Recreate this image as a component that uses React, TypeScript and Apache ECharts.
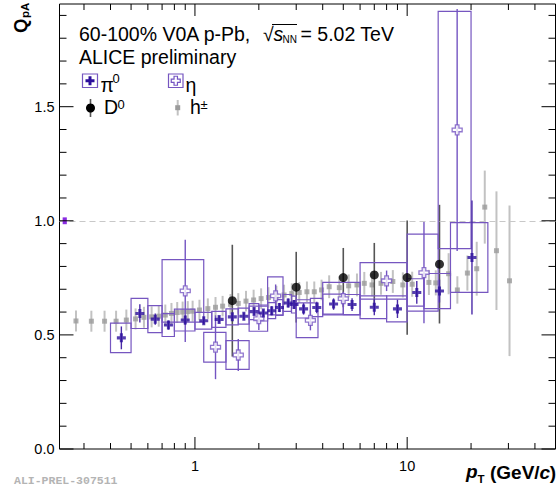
import React, { useEffect, useRef } from "react";
import * as echarts from "echarts";

// ---- pi0: pT (GeV/c), Q_pA, bin edges for the systematic boxes, errors
const pi0Pt = [0.45, 0.55, 0.65, 0.75, 0.9, 1.1, 1.3, 1.5, 1.7, 1.9, 2.1, 2.3, 2.5, 2.75, 2.93, 3.25, 3.75, 4.5, 5.5, 7.0, 9.0, 11.1, 14.2, 20.2];
const pi0Q = [0.487, 0.594, 0.569, 0.543, 0.565, 0.562, 0.568, 0.579, 0.582, 0.602, 0.596, 0.606, 0.620, 0.640, 0.633, 0.614, 0.620, 0.635, 0.633, 0.621, 0.614, 0.686, 0.692, 0.839];
const pi0Lo = [0.4, 0.5, 0.6, 0.7, 0.8, 1.0, 1.2, 1.4, 1.6, 1.8, 2.0, 2.2, 2.4, 2.6, 2.85, 3.0, 3.5, 4.0, 5.0, 6.0, 8.0, 10.0, 12.0, 16.0];
const pi0Hi = [0.5, 0.6, 0.7, 0.8, 1.0, 1.2, 1.4, 1.6, 1.8, 2.0, 2.2, 2.4, 2.6, 2.85, 3.0, 3.5, 4.0, 5.0, 6.0, 8.0, 10.0, 12.0, 16.0, 24.0];
const pi0Sys = [0.065, 0.066, 0.059, 0.05, 0.048, 0.037, 0.035, 0.035, 0.035, 0.035, 0.035, 0.035, 0.035, 0.037, 0.037, 0.04, 0.04, 0.044, 0.044, 0.05, 0.057, 0.06, 0.077, 0.153];
const pi0Stat = [0.05, 0.04, 0.025, 0.02, 0.02, 0.015, 0.015, 0.015, 0.015, 0.015, 0.015, 0.02, 0.02, 0.02, 0.02, 0.025, 0.025, 0.025, 0.028, 0.035, 0.04, 0.05, 0.05, 0.25];

// ---- eta
const etaPt = [0.9, 1.25, 1.6, 2.0, 2.4, 3.5, 5.0, 8.0, 12.0, 17.2];
const etaQ = [0.693, 0.446, 0.412, 0.571, 0.671, 0.564, 0.659, 0.737, 0.773, 1.398];
const etaLo = [0.7, 1.1, 1.4, 1.8, 2.2, 3.0, 4.0, 6.0, 10.0, 14.0];
const etaHi = [1.1, 1.4, 1.8, 2.2, 2.6, 3.8, 6.0, 10.0, 14.0, 20.0];
const etaSys = [0.137, 0.065, 0.063, 0.055, 0.083, 0.076, 0.071, 0.08, 0.169, 0.52];
const etaStat = [0.224, 0.14, 0.07, 0.05, 0.05, 0.044, 0.03, 0.045, 0.222, 0.53];

// ---- D0
const d0Pt = [1.5, 3.0, 5.0, 7.0, 10.0, 14.2];
const d0Q = [0.650, 0.709, 0.751, 0.763, 0.751, 0.810];
const d0Err = [0.245, 0.155, 0.13, 0.14, 0.25, 0.26];

// ---- charged hadrons
const hPt = [0.275, 0.325, 0.375, 0.425, 0.475, 0.525, 0.575, 0.625, 0.675, 0.725, 0.775, 0.825, 0.875, 0.925, 0.975,
  1.05, 1.15, 1.25, 1.35, 1.47, 1.6, 1.74, 1.89, 2.05, 2.22, 2.42, 2.63, 2.86, 3.1, 3.37, 3.65, 3.95,
  4.29, 4.79, 5.3, 5.8, 6.28, 6.83, 7.53, 8.56, 9.54, 10.56, 12.66, 13.64, 15.68, 17.24, 19.22, 21.27, 23.21, 26.35, 30.36];
const hQ = [0.561, 0.560, 0.560, 0.560, 0.565, 0.570, 0.577, 0.579, 0.582, 0.587, 0.594, 0.598, 0.600, 0.602, 0.604,
  0.609, 0.615, 0.621, 0.626, 0.634, 0.638, 0.648, 0.653, 0.659, 0.664, 0.670, 0.675, 0.681, 0.686, 0.689, 0.689, 0.697,
  0.711, 0.707, 0.715, 0.719, 0.726, 0.719, 0.726, 0.734, 0.719, 0.722, 0.730, 0.728, 0.768, 0.697, 0.771, 0.790, 1.060, 0.869, 0.737];
const hErr = [0.046, 0.046, 0.046, 0.046, 0.046, 0.046, 0.046, 0.046, 0.046, 0.046, 0.046, 0.046, 0.046, 0.046, 0.046,
  0.045, 0.045, 0.045, 0.045, 0.045, 0.045, 0.045, 0.045, 0.045, 0.045, 0.045, 0.045, 0.045, 0.045, 0.045, 0.045, 0.045,
  0.05, 0.05, 0.05, 0.05, 0.05, 0.05, 0.05, 0.05, 0.055, 0.055, 0.055, 0.055, 0.09, 0.06, 0.077, 0.118, 0.16, 0.26, 0.33];

// normalisation uncertainty at unity
const normValue = 1.0;
const normErr = 0.015;

// axes
const X_MIN = 0.23;
const X_MAX = 50;
const Y_MIN = 0;
const Y_MAX = 1.95;
const xLabelTicks = [1, 10];
const xMinorTicks = [0.3, 0.4, 0.5, 0.6, 0.7, 0.8, 0.9, 2, 3, 4, 5, 6, 7, 8, 9, 20, 30, 40];
const yMajorTicks = [0, 0.5, 1.0, 1.5];
const yMinorTicks = [0.1, 0.2, 0.3, 0.4, 0.6, 0.7, 0.8, 0.9, 1.1, 1.2, 1.3, 1.4, 1.6, 1.7, 1.8, 1.9];

const FONT = "'Liberation Sans', Arial, Helvetica, sans-serif";
const PI0_COLOR = "#2c0f9c";
const PI0_BAR = "#4a2aa8";
const BOX_COLOR = "#7656c0";
const ETA_COLOR = "#7454c2";
const NORM_COLOR = "#8a2be2";

const PLUS_PATH = "path://M3.3,0H6.7V3.3H10V6.7H6.7V10H3.3V6.7H0V3.3H3.3Z";
const OPEN_CROSS_PATH = "path://M3.2,0H6.8V3.2H10V6.8H6.8V10H3.2V6.8H0V3.2H3.2Z";

function errBars(name: string, xs: number[], ys: number[], errs: number[], color: string, width: number, z: number) {
  return {
    type: "custom",
    name,
    z,
    clip: true,
    data: xs.map((x, i) => [x, ys[i], errs[i]]),
    encode: { x: 0, y: 1 },
    renderItem: (_p: any, api: any) => {
      const x = api.value(0);
      const y = api.value(1);
      const e = api.value(2);
      const a = api.coord([x, y - e]);
      const b = api.coord([x, y + e]);
      return {
        type: "line",
        shape: { x1: a[0], y1: a[1], x2: b[0], y2: b[1] },
        style: { stroke: color, lineWidth: width },
      };
    },
  };
}

function sysBoxes(name: string, lo: number[], hi: number[], ys: number[], sys: number[], color: string, z: number) {
  return {
    type: "custom",
    name,
    z,
    clip: true,
    data: ys.map((y, i) => [lo[i], hi[i], y, sys[i]]),
    encode: { x: [0, 1], y: 2 },
    renderItem: (_p: any, api: any) => {
      const y = api.value(2);
      const s = api.value(3);
      const p1 = api.coord([api.value(0), y + s]);
      const p2 = api.coord([api.value(1), y - s]);
      return {
        type: "rect",
        shape: { x: p1[0], y: p1[1], width: p2[0] - p1[0], height: p2[1] - p1[1] },
        style: { fill: "none", stroke: color, lineWidth: 1.2 },
      };
    },
  };
}

// frame ticks on all four sides, pointing inwards
const tickData = [
  ...xMinorTicks.map((v) => [v, 1, 0]),
  ...xLabelTicks.map((v) => [v, 1, 1]),
  ...yMinorTicks.map((v) => [1, v, 2]),
  ...yMajorTicks.map((v) => [1, v, 3]),
];

function plusPoints(cx: number, cy: number, s: number, t: number) {
  const h = s / 2;
  const a = t / 2;
  return [
    [cx - a, cy - h], [cx + a, cy - h], [cx + a, cy - a], [cx + h, cy - a], [cx + h, cy + a], [cx + a, cy + a],
    [cx + a, cy + h], [cx - a, cy + h], [cx - a, cy + a], [cx - h, cy + a], [cx - h, cy - a], [cx - a, cy - a],
  ];
}

function txt(x: number, y: number, text: string, size: number, extra: any = {}) {
  return {
    type: "text",
    x,
    y,
    z: 50,
    style: {
      text,
      fontSize: size,
      fontFamily: FONT,
      fill: "#000",
      align: "left",
      verticalAlign: "middle",
      textAlign: "left",
      textVerticalAlign: "middle",
      ...extra,
    },
  };
}

export default function App() {
  const ref = useRef<HTMLDivElement>(null);

  useEffect(() => {
    if (!ref.current) return;
    document.body.style.margin = "0";
    const chart = echarts.init(ref.current, undefined, { renderer: "svg" });

    const option: any = {
      animation: false,
      backgroundColor: "#ffffff",
      grid: {
        left: 59.5,
        right: 0.5,
        top: 4,
        bottom: 37,
        show: true,
        borderColor: "#000",
        borderWidth: 1,
        backgroundColor: "transparent",
        containLabel: false,
      },
      xAxis: {
        type: "log",
        logBase: 10,
        min: X_MIN,
        max: X_MAX,
        axisLine: { show: false },
        axisTick: { show: false },
        splitLine: { show: false },
        axisLabel: {
          margin: 9,
          fontSize: 14.5,
          fontFamily: FONT,
          color: "#000",
          showMinLabel: false,
          showMaxLabel: false,
          formatter: (v: number) => {
            const hit = xLabelTicks.find((t) => Math.abs(v - t) / t < 1e-6);
            return hit !== undefined ? String(hit) : "";
          },
        },
      },
      yAxis: {
        type: "value",
        min: Y_MIN,
        max: Y_MAX,
        interval: 0.5,
        axisLine: { show: false },
        axisTick: { show: false },
        splitLine: { show: false },
        axisLabel: {
          margin: 5,
          fontSize: 14.5,
          fontFamily: FONT,
          color: "#000",
          showMaxLabel: false,
          formatter: (v: number) => (yMajorTicks.some((t) => Math.abs(v - t) < 1e-6) ? v.toFixed(1) : ""),
        },
      },
      series: [
        // frame ticks
        {
          type: "custom",
          name: "ticks",
          z: 20,
          clip: false,
          silent: true,
          data: tickData,
          encode: { x: 0, y: 1 },
          renderItem: (_p: any, api: any) => {
            const kind = api.value(2);
            const st = { stroke: "#000", lineWidth: 1 };
            if (kind < 2) {
              const v = api.value(0);
              const len = kind === 1 ? 12 : 6;
              const b = api.coord([v, Y_MIN]);
              const t = api.coord([v, Y_MAX]);
              return {
                type: "group",
                children: [
                  { type: "line", shape: { x1: b[0], y1: b[1], x2: b[0], y2: b[1] - len }, style: st },
                  { type: "line", shape: { x1: t[0], y1: t[1], x2: t[0], y2: t[1] + len }, style: st },
                ],
              };
            }
            const v = api.value(1);
            const len = kind === 3 ? 14 : 7;
            const l = api.coord([X_MIN, v]);
            const r = api.coord([X_MAX, v]);
            return {
              type: "group",
              children: [
                { type: "line", shape: { x1: l[0], y1: l[1], x2: l[0] + len, y2: l[1] }, style: st },
                { type: "line", shape: { x1: r[0], y1: r[1], x2: r[0] - len, y2: r[1] }, style: st },
              ],
            };
          },
        },
        // normalisation box at unity
        {
          type: "custom",
          name: "norm",
          z: 6,
          clip: false,
          data: [[normValue, normErr]],
          encode: { y: 0 },
          renderItem: (_p: any, api: any) => {
            const y = api.value(0);
            const e = api.value(1);
            const p1 = api.coord([0.238, y + e]);
            const p2 = api.coord([0.249, y - e]);
            return {
              type: "rect",
              shape: { x: p1[0], y: p1[1], width: p2[0] - p1[0], height: p2[1] - p1[1] },
              style: { fill: NORM_COLOR },
            };
          },
        },
        // charged hadrons
        errBars("h-err", hPt, hQ, hErr, "#c2c2c2", 2, 2),
        {
          type: "scatter",
          name: "h",
          z: 3,
          symbol: "rect",
          symbolSize: 5,
          itemStyle: { color: "#9b9b9b" },
          data: hPt.map((x, i) => [x, hQ[i]]),
          markLine: {
            silent: true,
            symbol: "none",
            label: { show: false },
            lineStyle: { color: "#c8c8c8", width: 1.2, type: [6, 4] },
            data: [{ yAxis: 1 }],
          },
        },
        // D0
        errBars("d0-err", d0Pt, d0Q, d0Err, "#555555", 1.6, 4),
        // systematic boxes and statistical bars
        sysBoxes("pi0-sys", pi0Lo, pi0Hi, pi0Q, pi0Sys, BOX_COLOR, 5),
        sysBoxes("eta-sys", etaLo, etaHi, etaQ, etaSys, BOX_COLOR, 5),
        errBars("eta-stat", etaPt, etaQ, etaStat, ETA_COLOR, 1.4, 6),
        errBars("pi0-stat", pi0Pt, pi0Q, pi0Stat, PI0_BAR, 1.4, 6),
        {
          type: "scatter",
          name: "D0",
          z: 8,
          symbol: "circle",
          symbolSize: 9,
          itemStyle: { color: "#000" },
          data: d0Pt.map((x, i) => [x, d0Q[i]]),
        },
        {
          type: "scatter",
          name: "eta",
          z: 8,
          symbol: OPEN_CROSS_PATH,
          symbolSize: 10,
          itemStyle: { color: "#ffffff", borderColor: ETA_COLOR, borderWidth: 1.3 },
          data: etaPt.map((x, i) => [x, etaQ[i]]),
        },
        {
          type: "scatter",
          name: "pi0",
          z: 9,
          symbol: PLUS_PATH,
          symbolSize: 9,
          itemStyle: { color: PI0_COLOR },
          data: pi0Pt.map((x, i) => [x, pi0Q[i]]),
        },
      ],
      graphic: [
        // collision system and energy
        txt(79, 33.7, "60-100% V0A p-Pb,", 19.5),
        txt(263, 33.7, "\u221a", 19.5),
        txt(273.5, 33.7, "s", 19.5, { fontStyle: "italic" }),
        txt(282.5, 39.5, "NN", 10),
        {
          type: "line",
          z: 50,
          shape: { x1: 272, y1: 24.5, x2: 297, y2: 24.5 },
          style: { stroke: "#000", lineWidth: 1 },
        },
        txt(300.5, 33.7, "= 5.02 TeV", 19.5),
        txt(79, 57.3, "ALICE preliminary", 19.5),

        // legend
        {
          type: "rect",
          z: 50,
          shape: { x: 82.5, y: 74, width: 15, height: 13.5 },
          style: { fill: "none", stroke: BOX_COLOR, lineWidth: 1.2 },
        },
        {
          type: "polygon",
          z: 51,
          shape: { points: plusPoints(90, 80.75, 9, 3) },
          style: { fill: PI0_COLOR },
        },
        txt(100.5, 84.7, "\u03c0", 19.5),
        txt(112.5, 78.2, "0", 13),
        {
          type: "rect",
          z: 50,
          shape: { x: 168.5, y: 74, width: 14.5, height: 13.5 },
          style: { fill: "none", stroke: BOX_COLOR, lineWidth: 1.2 },
        },
        {
          type: "polygon",
          z: 51,
          shape: { points: plusPoints(175.75, 80.75, 9, 3.4) },
          style: { fill: "#fff", stroke: ETA_COLOR, lineWidth: 1.2 },
        },
        txt(185.5, 84.7, "\u03b7", 19.5),

        {
          type: "line",
          z: 50,
          shape: { x1: 90.5, y1: 99, x2: 90.5, y2: 117 },
          style: { stroke: "#555", lineWidth: 1.6 },
        },
        {
          type: "circle",
          z: 51,
          shape: { cx: 90.5, cy: 108, r: 4.5 },
          style: { fill: "#000" },
        },
        txt(104, 107, "D", 19.5),
        txt(117.5, 104.2, "0", 13),
        {
          type: "line",
          z: 50,
          shape: { x1: 177.7, y1: 100, x2: 177.7, y2: 115.5 },
          style: { stroke: "#c2c2c2", lineWidth: 2 },
        },
        {
          type: "rect",
          z: 51,
          shape: { x: 175.2, y: 105.2, width: 5, height: 5 },
          style: { fill: "#9b9b9b" },
        },
        txt(190, 107, "h", 19.5),
        txt(200.5, 104.2, "\u00b1", 13),

        // y axis title, rotated
        {
          type: "group",
          x: 20,
          y: 33,
          rotation: Math.PI / 2,
          z: 50,
          children: [
            txt(0, 0, "Q", 18.5, { fontWeight: "bold" }),
            txt(15, 5, "pA", 11.5, { fontWeight: "bold" }),
          ],
        },

        // x axis title
        txt(466, 471, "p", 19, { fontWeight: "bold", fontStyle: "italic" }),
        txt(477.5, 479, "T", 11.5, { fontWeight: "bold" }),
        txt(490, 472, "(GeV/", 19, { fontWeight: "bold" }),
        txt(539.4, 472, "c", 19, { fontWeight: "bold", fontStyle: "italic" }),
        txt(549.8, 472, ")", 19, { fontWeight: "bold" }),

        // figure id
        txt(14, 480.5, "ALI-PREL-307511", 11.5, {
          fontFamily: "'Liberation Mono', 'DejaVu Sans Mono', monospace",
          fontWeight: "bold",
          fill: "#b4b4b4",
        }),
      ],
    };

    chart.setOption(option);
    return () => chart.dispose();
  }, []);

  return (
    <div
      ref={ref}
      style={{ position: "fixed", left: 0, top: 0, width: 556, height: 486, background: "#fff" }}
    />
  );
}
